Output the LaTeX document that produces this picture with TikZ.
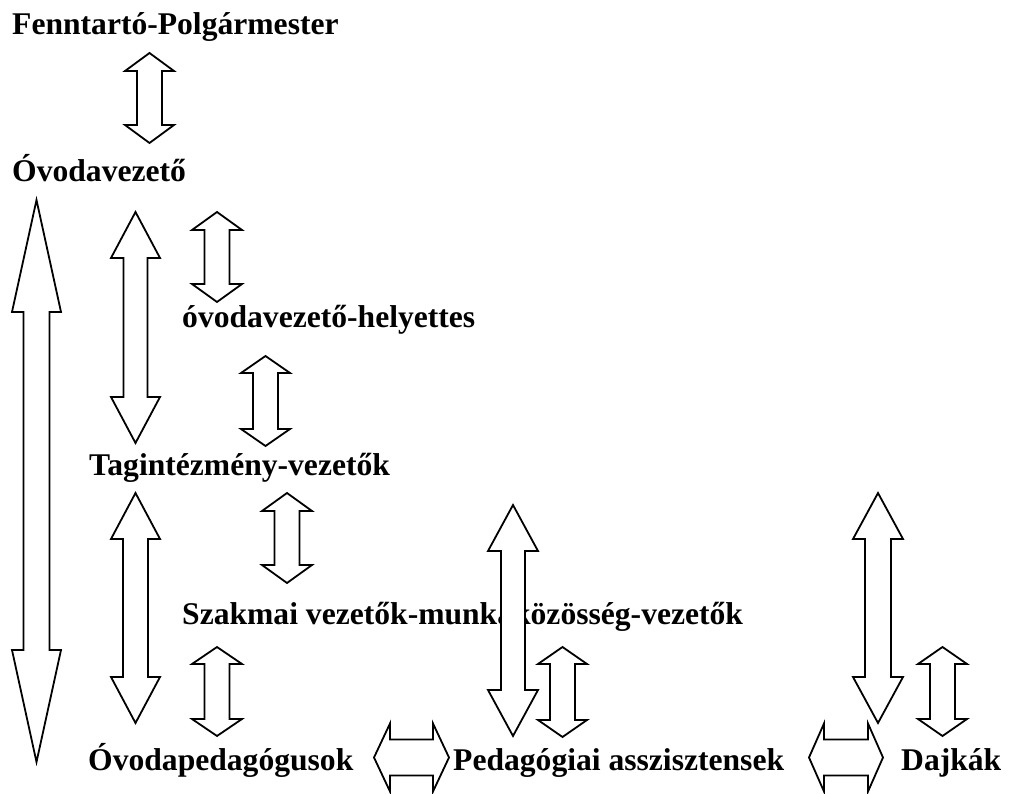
\documentclass[tikz,border=0pt]{standalone}
\usepackage{fontspec}
\setmainfont{Liberation Serif}
\tikzset{
  lbl/.style={anchor=base west, inner sep=0pt, font=\fontsize{31.6}{32}\selectfont\bfseries},
  blockarrow/.style={draw=black, fill=white, line width=1.8pt, line join=miter}
}
% vertical double block arrow: cx, ytop, ybot, head half width, shaft half width, head length
\newcommand\vdblarrow[6]{%
  \draw[blockarrow] (#1,#2) -- ({#1+#4},{#2+#6}) -- ({#1+#5},{#2+#6}) -- ({#1+#5},{#3-#6})
    -- ({#1+#4},{#3-#6}) -- (#1,#3) -- ({#1-#4},{#3-#6}) -- ({#1-#5},{#3-#6})
    -- ({#1-#5},{#2+#6}) -- ({#1-#4},{#2+#6}) -- cycle;}
% horizontal double block arrow: cy, xleft, xright, head half height, shaft half height, head length
\newcommand\hdblarrow[6]{%
  \draw[blockarrow] (#2,#1) -- ({#2+#6},{#1-#4}) -- ({#2+#6},{#1-#5}) -- ({#3-#6},{#1-#5})
    -- ({#3-#6},{#1-#4}) -- (#3,#1) -- ({#3-#6},{#1+#4}) -- ({#3-#6},{#1+#5})
    -- ({#2+#6},{#1+#5}) -- ({#2+#6},{#1+#4}) -- cycle;}
\begin{document}
\begin{tikzpicture}[x=1pt,y=-1pt]
\useasboundingbox (0,0) rectangle (1010,794);
% texts
\node[lbl] (fenn) at (12,35) {Fenntartó-Polgármester};
\node[lbl] (ovez) at (12,182) {Óvodavezető};
\node[lbl] (helyettes) at (182,328) {óvodavezető-helyettes};
\node[lbl] (tag) at (89,475) {Tagintézmény-vezetők};
\node[lbl] (szak) at (182,624) {Szakmai vezetők-munkaközösség-vezetők};
\node[lbl] (ovped) at (88,770) {Óvodapedagógusok};
\node[lbl] (pedas) at (453,770) {Pedagógiai asszisztensek};
\node[lbl] (dajka) at (901,770) {Dajkák};
% vertical arrows
\vdblarrow{149.5}{53}{143}{24.5}{12.5}{18}
\vdblarrow{36.5}{200}{762}{24.5}{13}{112}
\vdblarrow{135.5}{212}{443}{24.5}{12}{46}
\vdblarrow{217}{212}{302}{25}{12.5}{18}
\vdblarrow{265.5}{356}{446}{24.5}{12.5}{17}
\vdblarrow{135.5}{493}{723}{24.5}{12.5}{46}
\vdblarrow{287}{493}{583}{25}{12.5}{18}
\vdblarrow{217}{647}{736}{25}{12.5}{17}
\vdblarrow{513}{505}{736}{25}{12}{46}
\vdblarrow{562.5}{647}{737}{24.5}{12.5}{17}
\vdblarrow{878}{493}{723}{25}{13}{46}
\vdblarrow{942.5}{647}{736}{24.5}{12.5}{17}
% horizontal arrows
\hdblarrow{757.5}{374}{449}{34}{18}{16}
\hdblarrow{757.5}{809}{883}{34}{18}{15}
\end{tikzpicture}
\end{document}
